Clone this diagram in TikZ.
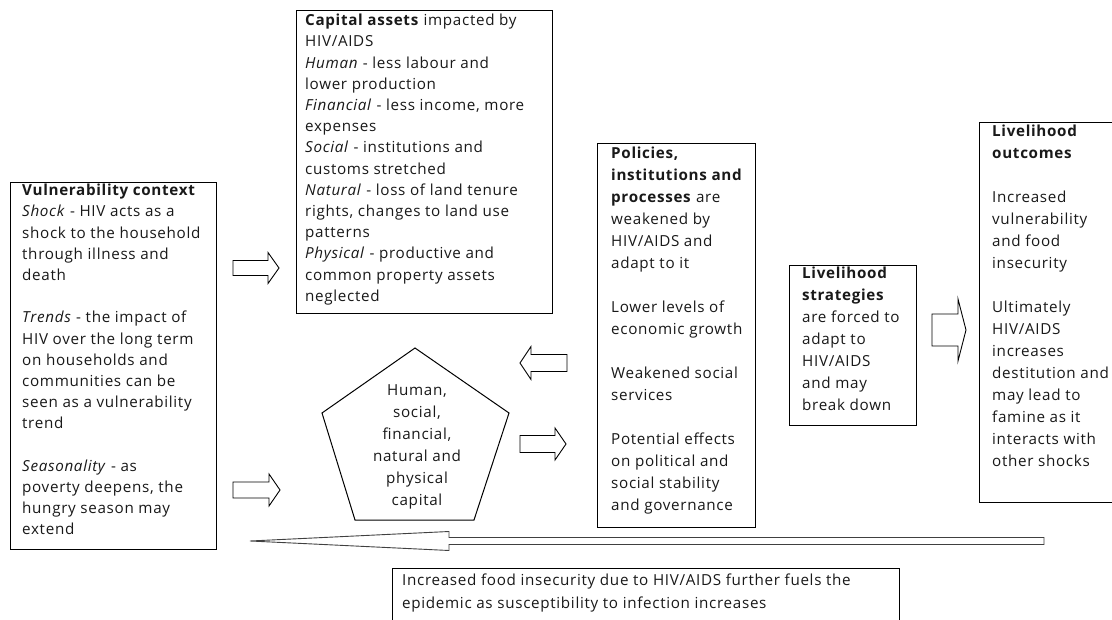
\documentclass[tikz,border=0pt]{standalone}
\usepackage{fontspec}
\setmainfont[LetterSpace=4.5]{Open Sans}
\newcommand{\harrow}[7][]{% tail x, tip x, y, body half, head half, head base x
  \draw[barrow,#1] (#2,#4-#5) -- (#7,#4-#5) -- (#7,#4-#6) -- (#3,#4) -- (#7,#4+#6) -- (#7,#4+#5) -- (#2,#4+#5) -- cycle;}
\begin{document}
\begin{tikzpicture}[x=1pt,y=-1pt,
  box/.style={draw=black, line width=1pt, inner sep=0pt, anchor=north west},
  txt/.style={anchor=north west, inner sep=0pt, align=left, text=black!90,
    font=\fontsize{15.2}{21.2}\selectfont},
  txtb/.style={txt, font=\fontsize{15.2}{22}\selectfont},
  barrow/.style={draw=black, line width=0.9pt, fill=white, line join=miter}]
\clip (0,0) rectangle (1112,620);
\fill[white] (0,0) rectangle (1112,620);

% boxes
\node[box, minimum width=206pt, minimum height=367pt] (vul) at (10,182) {};
\node[box, minimum width=256pt, minimum height=303pt] (cap) at (296,10) {};
\node[box, minimum width=158pt, minimum height=384pt] (pol) at (597,143) {};
\node[box, minimum width=127pt, minimum height=160pt] (str) at (789,265) {};
\node[box, minimum width=160pt, minimum height=380pt] (out) at (979,122) {};
\node[box, minimum width=507pt, minimum height=70pt] (fb) at (392,568) {};

% pentagon
\coordinate (p1) at (415,348);
\coordinate (p2) at (509,413);
\coordinate (p3) at (474,520);
\coordinate (p4) at (355,520);
\coordinate (p5) at (322,413);
\draw[line width=1pt, line join=miter] (p1) -- (p2) -- (p3) -- (p4) -- (p5) -- cycle;
\node[txtb, anchor=center, align=center] (pent) at (417,447)
  {Human,\\ social,\\ financial,\\ natural and\\ physical\\ capital};

% texts
\node[txt] (vultext) at (22,184) {%
\textbf{Vulnerability context}\\
\textit{Shock} - HIV acts as a\\
shock to the household\\
through illness and\\
death\\[21.2pt]
\textit{Trends} - the impact of\\
HIV over the long term\\
on households and\\
communities can be\\
seen as a vulnerability\\
trend\\[21.2pt]
\textit{Seasonality} - as\\
poverty deepens, the\\
hungry season may\\
extend};

\node[txt] (captext) at (305,14) {%
\textbf{Capital assets} impacted by\\
HIV/AIDS\\
\textit{Human} - less labour and\\
lower production\\
\textit{Financial} - less income, more\\
expenses\\
\textit{Social} - institutions and\\
customs stretched\\
\textit{Natural} - loss of land tenure\\
rights, changes to land use\\
patterns\\
\textit{Physical} - productive and\\
common property assets\\
neglected};

\node[txtb] (poltext) at (611,147) {%
\textbf{Policies,}\\
\textbf{institutions and}\\
\textbf{processes} are\\
weakened by\\
HIV/AIDS and\\
adapt to it\\[22pt]
Lower levels of\\
economic growth\\[22pt]
Weakened social\\
services\\[22pt]
Potential effects\\
on political and\\
social stability\\
and governance};

\node[txtb] (strtext) at (802,267) {%
\textbf{Livelihood}\\
\textbf{strategies}\\
are forced to\\
adapt to\\
HIV/AIDS\\
and may\\
break down};

\node[txtb] (outtext) at (992,125) {%
\textbf{Livelihood}\\
\textbf{outcomes}\\[22pt]
Increased\\
vulnerability\\
and food\\
insecurity\\[22pt]
Ultimately\\
HIV/AIDS\\
increases\\
destitution and\\
may lead to\\
famine as it\\
interacts with\\
other shocks};

\node[txt, font=\fontsize{15.2}{23}\selectfont] (fbtext) at (402,574) {%
Increased food insecurity due to HIV/AIDS further fuels the\\
epidemic as susceptibility to infection increases};

% block arrows
\harrow{233}{279}{268}{7.5}{15.5}{268}
\harrow{567}{520}{363}{8.5}{16.5}{531}
\harrow{520}{566}{444}{8.5}{16}{555}
\harrow{233}{280}{490}{8}{16}{269}
\harrow{932}{966}{330}{16}{31}{958}
\harrow[draw=black!75]{1044}{250}{541}{3.5}{9.5}{449}
\end{tikzpicture}
\end{document}
